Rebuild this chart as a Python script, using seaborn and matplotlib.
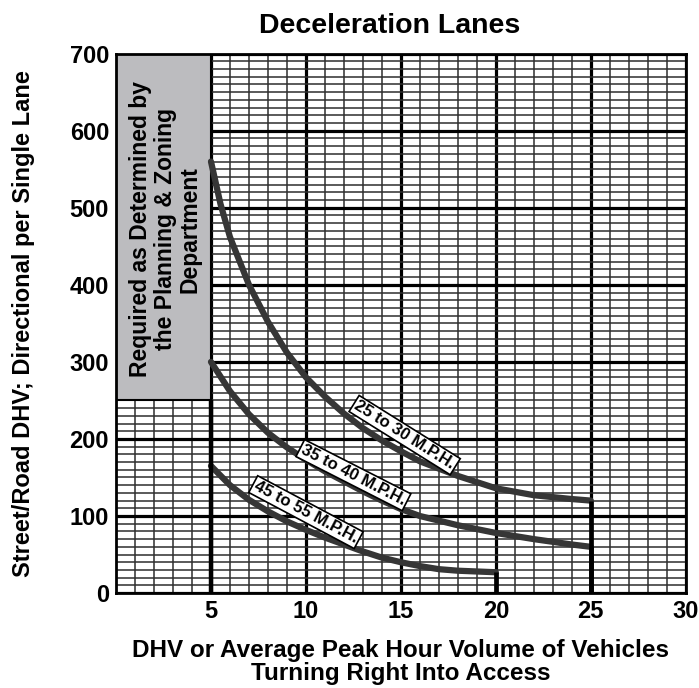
import matplotlib
matplotlib.use('Agg')
import matplotlib.pyplot as plt
import numpy as np
import pandas as pd
import seaborn as sns

# Curve readings (x = DHV turning right, y = street DHV)
x_25_30 = [5, 5.5, 6, 7, 8, 9, 10, 11, 12, 13, 14, 15, 16, 18, 20, 22, 24, 25]
y_25_30 = [560, 505, 462, 400, 352, 312, 280, 255, 233, 214, 198, 184, 171, 152, 136, 127, 122, 120]

x_35_40 = [5, 6, 7, 8, 9, 10, 11, 12, 13, 14, 15, 16, 18, 20, 22, 24, 25]
y_35_40 = [300, 262, 232, 208, 189, 173, 158, 145, 132, 120, 109, 100, 88, 78, 70, 63, 60]

x_45_55 = [5, 6, 7, 8, 9, 10, 11, 12, 13, 14, 15, 16, 17, 18, 20]
y_45_55 = [165, 140, 121, 106, 93, 82, 72, 63, 54, 46, 40, 35, 31, 29, 27]

speed_names = ['25 to 30 M.P.H.', '35 to 40 M.P.H.', '45 to 55 M.P.H.']
# label anchor (x, y) and rotation for each curve tag
label_x = [15.2, 12.5, 10.0]
label_y = [205, 153, 105]
label_rot = [-32, -27, -28]

# shaded "determined by department" zone
zone_x = [0, 5]
zone_bottom = 250
zone_top = 700
zone_text = 'Required as Determined by\nthe Planning & Zoning\nDepartment'

x_ticks = [5, 10, 15, 20, 25, 30]
y_ticks = [0, 100, 200, 300, 400, 500, 600, 700]

frames = []
for name, xs, ys in zip(speed_names, [x_25_30, x_35_40, x_45_55], [y_25_30, y_35_40, y_45_55]):
    frames.append(pd.DataFrame({'x': xs, 'y': ys, 'speed': name}))
df = pd.concat(frames, ignore_index=True)

sns.set_style('white')
plt.rcParams['font.family'] = ['Liberation Sans', 'DejaVu Sans']
plt.rcParams['font.weight'] = 'bold'
plt.rcParams['text.color'] = 'black'
plt.rcParams['axes.labelcolor'] = 'black'
plt.rcParams['xtick.color'] = 'black'
plt.rcParams['ytick.color'] = 'black'

fig = plt.figure(figsize=(6.99, 6.88), dpi=100)
ax = fig.add_axes([0.166, 0.138, 0.815, 0.784])

ax.set_xlim(0, 30)
ax.set_ylim(0, 700)
ax.set_xticks(x_ticks)
ax.set_xticks(np.arange(0, 31, 1), minor=True)
ax.set_yticks(y_ticks)
ax.set_yticks(np.arange(0, 701, 10), minor=True)
ax.grid(which='minor', color='#2e2e2e', linewidth=1.1, zorder=0)
ax.grid(which='major', color='black', linewidth=2.3, zorder=0)
ax.set_axisbelow(True)
ax.tick_params(which='both', length=0, labelsize=17, pad=5, colors='black')
for lab in ax.get_xticklabels() + ax.get_yticklabels():
    lab.set_fontweight('bold')

# gray zone
ax.fill_between(zone_x, zone_bottom, zone_top, color='#bcbcbf', edgecolor='black',
                linewidth=1.5, zorder=2)
ax.text(2.6, 472, zone_text, rotation=90, ha='center', va='center', fontsize=16.5,
        fontweight='bold', color='black', linespacing=1.1, zorder=3)

# curves
sns.lineplot(data=df, x='x', y='y', hue='speed', palette=['#363636'] * 3,
             linewidth=4.5, legend=False, ax=ax, zorder=4, sort=False)

# vertical drops at curve ends and along x=5
ends = [(x_25_30[-1], y_25_30[-1]), (x_35_40[-1], y_35_40[-1]), (x_45_55[-1], y_45_55[-1])]
for ex, ey in ends:
    ax.vlines(ex, 0, ey, color='black', linewidth=3.4, zorder=4)
ax.vlines(zone_x[1], 0, zone_bottom, color='black', linewidth=3.2, zorder=4)

# curve tags
for name, lx, ly, rot in zip(speed_names, label_x, label_y, label_rot):
    ax.text(lx, ly, name, rotation=rot, rotation_mode='anchor', ha='center', va='center',
            fontsize=12, fontweight='bold', color='black', zorder=5,
            bbox=dict(boxstyle='square,pad=0.12', facecolor='white', edgecolor='black', linewidth=1.2))

for s in ax.spines.values():
    s.set_color('black')
    s.set_linewidth(2.0)
    s.set_visible(True)

ax.set_title('Deceleration Lanes', fontsize=20.5, fontweight='bold', pad=15, x=0.48, color='black')
ax.set_xlabel('DHV or Average Peak Hour Volume of Vehicles\nTurning Right Into Access',
              fontsize=17.5, fontweight='bold', linespacing=1.0)
ax.xaxis.set_label_coords(0.5, -0.085)
ax.set_ylabel('Street/Road DHV; Directional per Single Lane', fontsize=17,
              fontweight='bold')
ax.yaxis.set_label_coords(-0.143, 0.5)

fig.savefig('out.png', dpi=100)
